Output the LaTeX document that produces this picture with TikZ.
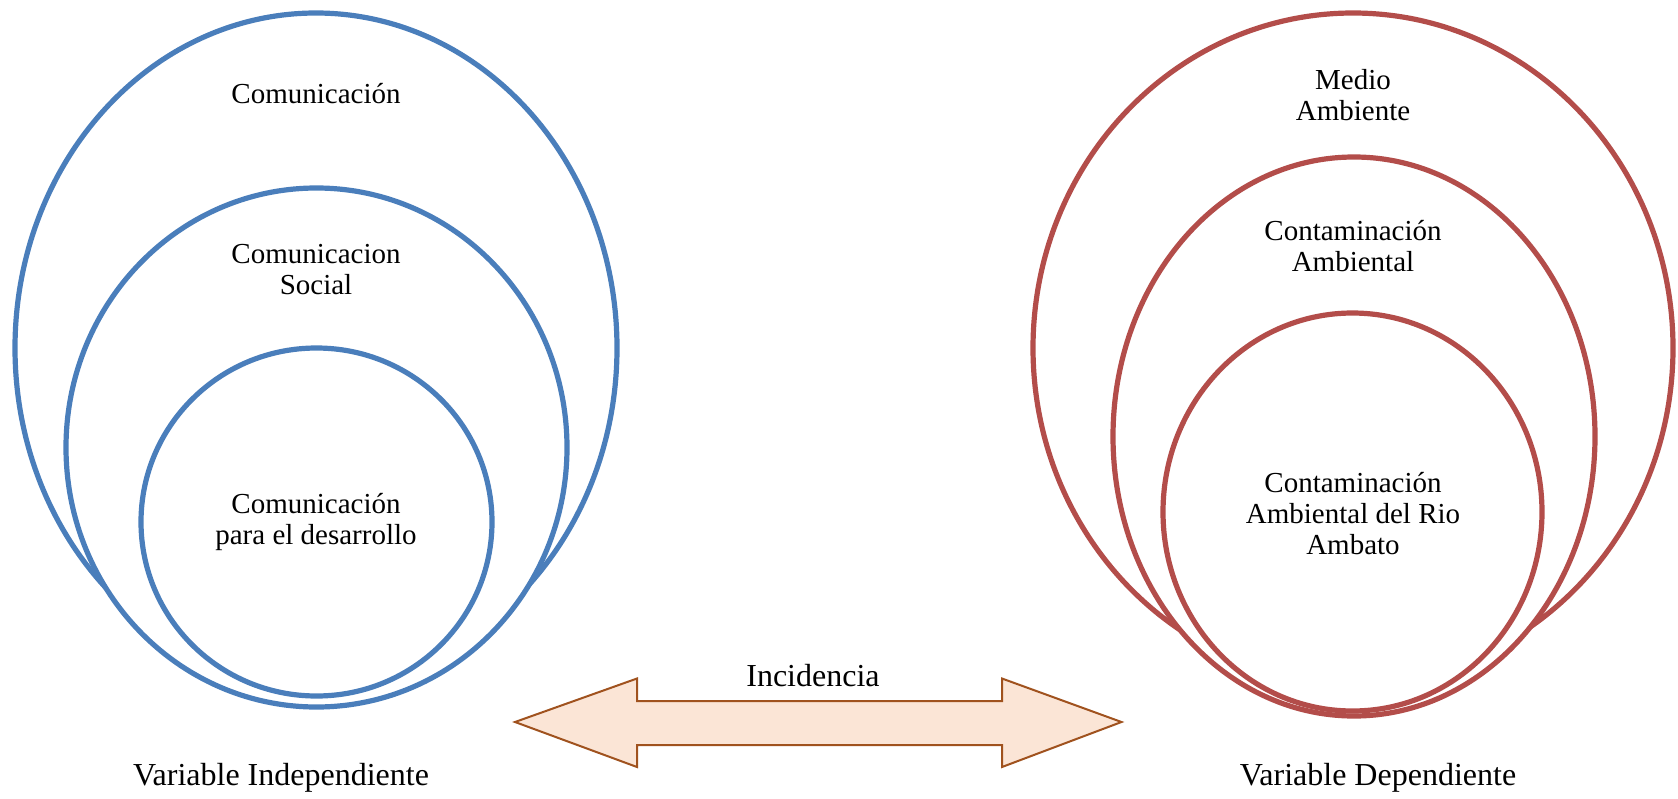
\documentclass[tikz,border=0pt]{standalone}
\usepackage{fontspec}
\setmainfont{Liberation Serif}
\usetikzlibrary{shapes.geometric}
\definecolor{cblue}{HTML}{4A7EBB}
\definecolor{cred}{HTML}{B34D4A}
\definecolor{afill}{HTML}{FBE5D6}
\definecolor{aline}{HTML}{A0521E}
\tikzset{
  ring/.style={draw, ellipse, fill=white, line width=5.2pt, inner sep=0pt, outer sep=0pt},
  bluering/.style={ring, draw=cblue},
  redring/.style={ring, draw=cred},
  txt/.style={font=\fontsize{29}{31}\selectfont, align=center, inner sep=0pt},
  lbl/.style={font=\fontsize{32}{34}\selectfont, inner sep=0pt},
  arrowshape/.style={draw=aline, fill=afill, line width=2pt, line join=miter}
}
\begin{document}
\begin{tikzpicture}[x=1pt,y=-1pt]
\useasboundingbox (0,0) rectangle (1678,798);
% blue group
\node[bluering, minimum width=602pt, minimum height=670pt] (bo) at (316,348) {};
\node[bluering, minimum width=501pt, minimum height=519pt] (bm) at (316.5,447.5) {};
\node[bluering, minimum width=351pt, minimum height=348pt] (bi) at (316.5,522) {};
\node[txt] (bt1) at (316,94) {Comunicación};
\node[txt] (bt2) at (316,270) {Comunicacion\\Social};
\node[txt] (bt3) at (316,522) {Comunicación\\para el desarrollo};
% red group
\node[redring, minimum width=640pt, minimum height=670pt] (ro) at (1353,348) {};
\node[redring, minimum width=482pt, minimum height=559pt] (rm) at (1354,436.5) {};
\node[redring, minimum width=379pt, minimum height=398pt] (ri) at (1352.5,512) {};
\node[txt] (rt1) at (1353,95) {Medio\\Ambiente};
\node[txt] (rt2) at (1353,246) {Contaminación\\Ambiental};
\node[txt] (rt3) at (1353,513.5) {Contaminación\\Ambiental del Rio\\Ambato};
% arrow
\draw[arrowshape] (515,722) -- (637,678.5) -- (637,701) -- (1002,701) -- (1002,678.5)
  -- (1121.5,722) -- (1002,767) -- (1002,745) -- (637,745) -- (637,767) -- cycle;
\node[lbl] (inc) at (813,676) {Incidencia};
\node[lbl] (vi) at (281,778) {Variable Independiente};
\node[lbl] (vd) at (1378,778) {Variable Dependiente};
\end{tikzpicture}
\end{document}
